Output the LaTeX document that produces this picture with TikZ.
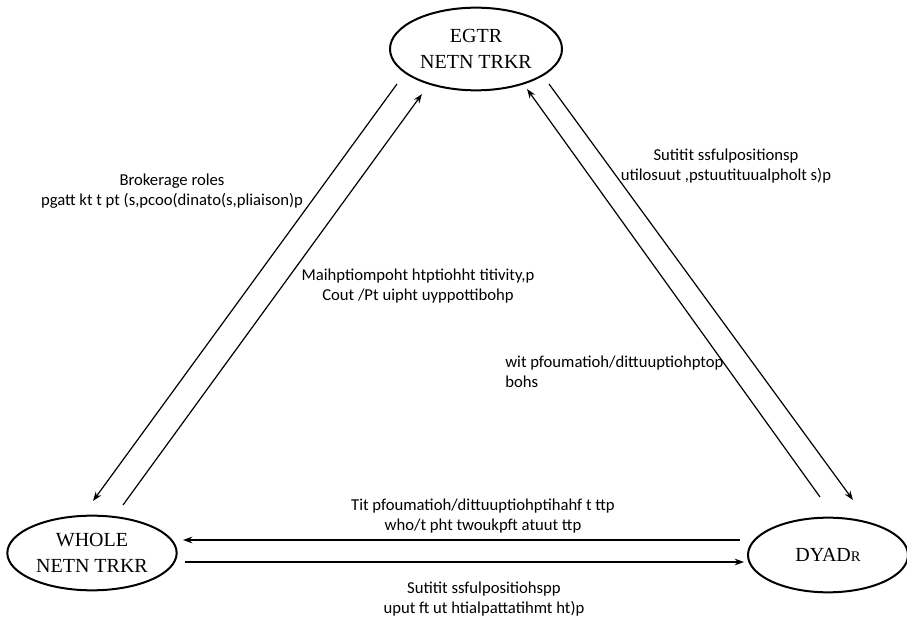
\documentclass[tikz,border=0pt]{standalone}
\usepackage{fontspec}
\setmainfont{Carlito}
\newfontfamily\ellfont{Liberation Serif}
\usetikzlibrary{shapes.geometric,arrows.meta}
\begin{document}
\begin{tikzpicture}[x=0.75pt,y=-0.75pt,
  netnode/.style={draw,line width=1.5pt,ellipse,inner sep=0pt,font=\ellfont\fontsize{15}{19}\selectfont,align=center},
  conn/.style={line width=0.9pt,-{Stealth[length=7pt,width=5pt]}},
  lbl/.style={font=\fontsize{12.5}{15}\selectfont,align=center,inner sep=0pt}]
\useasboundingbox (0,0) rectangle (907,624);
\node[netnode,minimum width=129pt,minimum height=62pt] (ego) at (476,49) {EGTR\\NETN TRKR};
\node[netnode,minimum width=127pt,minimum height=56pt] (whole) at (92,553) {WHOLE\\NETN TRKR};
\node[netnode,minimum width=120pt,minimum height=56pt] (dyad) at (828,555) {DYAD{\fontsize{11}{13}\selectfont R}};
\coordinate (a1s) at (397,84); \coordinate (a1e) at (93,501);
\coordinate (a2s) at (123,505); \coordinate (a2e) at (422,94);
\coordinate (a3s) at (820,497); \coordinate (a3e) at (527,89);
\coordinate (a4s) at (549,84); \coordinate (a4e) at (853,500);
\coordinate (b1s) at (740,540); \coordinate (b1e) at (183,540);
\coordinate (b2s) at (185,562); \coordinate (b2e) at (744,562);
\draw[conn] (a1s) -- (a1e);
\draw[conn] (a2s) -- (a2e);
\draw[conn] (a3s) -- (a3e);
\draw[conn] (a4s) -- (a4e);
\draw[conn] (b1s) -- (b1e);
\draw[conn] (b2s) -- (b2e);
\node[lbl] (l1) at (172,191) {Brokerage roles\\pgatt kt t pt (s,pcoo(dinato(s,pliaison)p};
\node[lbl] (l2) at (418,286) {Maihptiompoht htptiohht titivity,p\\Cout /Pt uipht uyppottibohp};
\node[lbl] (l3) at (726,166) {Sutitit ssfulpositionsp\\utilosuut ,pstuutituualpholt s)p};
\node[lbl,align=left,anchor=west] (l4) at (505,372) {wit pfoumatioh/dittuuptiohptop\\bohs};
\node[lbl] (l5) at (483,516) {Tit pfoumatioh/dittuuptiohptihahf t ttp\\who/t pht twoukpft atuut ttp};
\node[lbl] (l6) at (484,599) {Sutitit ssfulpositiohspp\\uput ft ut htialpattatihmt ht)p};
\end{tikzpicture}
\end{document}
